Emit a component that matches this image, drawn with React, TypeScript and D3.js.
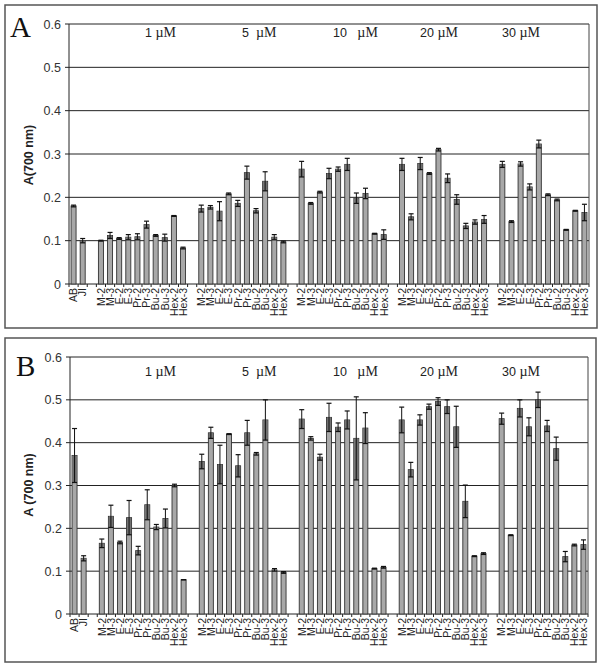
import React from 'react';
import * as d3 from 'd3';

const controls = ['AB', 'JI'];
const compounds = ['M-2', 'M-3', 'E-2', 'E-3', 'Pr-2', 'Pr-3', 'Bu-2', 'Bu-3', 'Hex-2', 'Hex-3'];
const concentrations = ['1', '5', '10', '20', '30'];
const concSpaces = [' ', '  ', '   ', ' ', ' '];
const yTicks = [0, 0.1, 0.2, 0.3, 0.4, 0.5, 0.6];

// Panel A
const aControlMean = [0.18, 0.10];
const aControlErr = [0.002, 0.005];
const aMean1 = [0.100, 0.112, 0.105, 0.108, 0.109, 0.137, 0.112, 0.107, 0.157, 0.083];
const aErr1 = [0.001, 0.007, 0.002, 0.006, 0.007, 0.008, 0.002, 0.008, 0.001, 0.002];
const aMean5 = [0.174, 0.177, 0.168, 0.208, 0.186, 0.257, 0.169, 0.237, 0.108, 0.097];
const aErr5 = [0.008, 0.004, 0.022, 0.002, 0.007, 0.015, 0.005, 0.022, 0.006, 0.002];
const aMean10 = [0.265, 0.186, 0.212, 0.255, 0.265, 0.276, 0.198, 0.209, 0.116, 0.114];
const aErr10 = [0.018, 0.002, 0.002, 0.012, 0.005, 0.014, 0.012, 0.012, 0.001, 0.011];
const aMean20 = [0.276, 0.155, 0.278, 0.255, 0.310, 0.244, 0.195, 0.134, 0.143, 0.149];
const aErr20 = [0.014, 0.007, 0.014, 0.002, 0.003, 0.010, 0.011, 0.006, 0.005, 0.009];
const aMean30 = [0.276, 0.144, 0.277, 0.224, 0.323, 0.206, 0.194, 0.125, 0.169, 0.165];
const aErr30 = [0.007, 0.002, 0.005, 0.007, 0.009, 0.002, 0.002, 0.001, 0.001, 0.019];

// Panel B
const bControlMean = [0.37, 0.13];
const bControlErr = [0.063, 0.006];
const bMean1 = [0.165, 0.228, 0.167, 0.225, 0.148, 0.255, 0.203, 0.223, 0.300, 0.080];
const bErr1 = [0.010, 0.026, 0.003, 0.040, 0.010, 0.035, 0.006, 0.022, 0.003, 0.000];
const bMean5 = [0.356, 0.423, 0.349, 0.420, 0.346, 0.423, 0.374, 0.453, 0.103, 0.097];
const bErr5 = [0.017, 0.013, 0.045, 0.001, 0.026, 0.029, 0.003, 0.047, 0.003, 0.002];
const bMean10 = [0.455, 0.410, 0.366, 0.459, 0.436, 0.453, 0.410, 0.434, 0.106, 0.109];
const bErr10 = [0.022, 0.004, 0.007, 0.033, 0.010, 0.021, 0.097, 0.036, 0.001, 0.002];
const bMean20 = [0.453, 0.337, 0.453, 0.484, 0.496, 0.484, 0.437, 0.263, 0.135, 0.141];
const bErr20 = [0.030, 0.017, 0.012, 0.006, 0.009, 0.016, 0.048, 0.038, 0.001, 0.002];
const bMean30 = [0.456, 0.184, 0.480, 0.437, 0.500, 0.439, 0.386, 0.134, 0.161, 0.162];
const bErr30 = [0.013, 0.001, 0.020, 0.021, 0.018, 0.013, 0.027, 0.012, 0.002, 0.011];

type Slot = { label: string; v: number | null; e: number };

function buildSlots(cm: number[], ce: number[], means: number[][], errs: number[][]): Slot[] {
  const s: Slot[] = controls.map((c, i) => ({ label: c, v: cm[i], e: ce[i] }));
  means.forEach((m, g) => {
    s.push({ label: '', v: null, e: 0 });
    compounds.forEach((c, i) => s.push({ label: c, v: m[i], e: errs[g][i] }));
  });
  return s;
}

const slotsA = buildSlots(aControlMean, aControlErr, [aMean1, aMean5, aMean10, aMean20, aMean30], [aErr1, aErr5, aErr10, aErr20, aErr30]);
const slotsB = buildSlots(bControlMean, bControlErr, [bMean1, bMean5, bMean10, bMean20, bMean30], [bErr1, bErr5, bErr10, bErr20, bErr30]);

const labelX = [145, 242, 333, 420, 502];

type PanelProps = {
  slots: Slot[];
  frame: [number, number, number, number];
  x0: number; x1: number; yTop: number; yBot: number;
  letter: string; letterX: number; letterY: number;
  title: string; titleY: number; concY: number;
};

function Panel(p: PanelProps) {
  const x = d3.scaleBand<string>()
    .domain(p.slots.map((_, i) => String(i)))
    .range([p.x0, p.x1])
    .paddingInner(0.45)
    .paddingOuter(0.225);
  const y = d3.scaleLinear().domain([0, 0.6]).range([p.yBot, p.yTop]);
  const step = x.step();
  const bw = x.bandwidth();
  const [fx, fy, fw, fh] = p.frame;
  return (
    <g>
      <rect x={fx} y={fy} width={fw} height={fh} fill="#fff" stroke="#555" strokeWidth={1.5} />
      {yTicks.map(t => (
        <g key={t}>
          {t > 0 && <line x1={p.x0} x2={p.x1} y1={y(t)} y2={y(t)} stroke="#222" strokeWidth={1} />}
          <line x1={p.x0 - 4} x2={p.x0} y1={y(t)} y2={y(t)} stroke="#222" strokeWidth={1} />
          <text x={p.x0 - 8} y={y(t) + 4.5} textAnchor="end" fontFamily="Liberation Sans, Arial, sans-serif" fontSize={12.5} fill="#333">{String(t)}</text>
        </g>
      ))}
      <line x1={p.x1} x2={p.x1} y1={p.yTop} y2={p.yBot} stroke="#444" strokeWidth={1} />
      <line x1={p.x0} x2={p.x0} y1={p.yTop} y2={p.yBot} stroke="#222" strokeWidth={1} />
      <line x1={p.x0} x2={p.x1} y1={p.yBot} y2={p.yBot} stroke="#222" strokeWidth={1} />
      {p.slots.map((_, i) => (
        <line key={'t' + i} x1={p.x0 + i * step} x2={p.x0 + i * step} y1={p.yBot} y2={p.yBot + 3} stroke="#222" strokeWidth={1} />
      ))}
      <line x1={p.x1} x2={p.x1} y1={p.yBot} y2={p.yBot + 3} stroke="#222" strokeWidth={1} />
      {p.slots.map((s, i) => {
        if (s.v === null) return null;
        const bx = x(String(i))!;
        const cx = bx + bw / 2;
        const top = y(s.v);
        const lo = y(Math.max(0, s.v - s.e));
        const hi = y(s.v + s.e);
        return (
          <g key={'b' + i}>
            <rect x={bx} y={top} width={bw} height={p.yBot - top} fill="#a8a8a8" stroke="#333" strokeWidth={0.9} />
            {s.e > 0.004 && <rect x={bx + 0.5} y={top} width={bw - 1} height={lo - top} fill="#707070" />}
            <line x1={cx} x2={cx} y1={hi} y2={lo} stroke="#111" strokeWidth={1} />
            <line x1={cx - 2.5} x2={cx + 2.5} y1={hi} y2={hi} stroke="#111" strokeWidth={1.2} />
            <line x1={cx - 2.5} x2={cx + 2.5} y1={lo} y2={lo} stroke="#111" strokeWidth={1.2} />
          </g>
        );
      })}
      {p.slots.map((s, i) => s.label ? (
        <text key={'l' + i}
          transform={`translate(${x(String(i))! + bw / 2 + 3.8},${p.yBot + 4}) rotate(-90)`}
          textAnchor="end" fontFamily="Liberation Sans, Arial, sans-serif" fontSize={10.5} fill="#222">{s.label}</text>
      ) : null)}
      {concentrations.map((c, i) => (
        <text key={'c' + i} x={labelX[i]} y={p.concY} fontSize={12.5} fill="#222" style={{ whiteSpace: 'pre' }}>
          <tspan fontFamily="Liberation Sans, Arial, sans-serif">{c + concSpaces[i]}</tspan>
          <tspan fontFamily="Liberation Serif, Times New Roman, serif" fontSize={14}>µM</tspan>
        </text>
      ))}
      <text transform={`translate(33,${p.titleY}) rotate(-90)`} textAnchor="middle" fontFamily="Liberation Sans, Arial, sans-serif" fontWeight="bold" fontSize={12.5} fill="#222" style={{ whiteSpace: 'pre' }}>{p.title}</text>
      <text x={p.letterX} y={p.letterY} fontFamily="Liberation Serif, Times New Roman, serif" fontSize={29} fill="#111">{p.letter}</text>
    </g>
  );
}

export default function App() {
  return (
    <svg width={603} height={666} style={{ position: 'absolute', left: 0, top: 0, background: '#fff' }}>
      <rect x={0} y={0} width={603} height={666} fill="#fff" />
      <Panel slots={slotsA} frame={[5, 5, 592, 323]} x0={69} x1={589} yTop={24} yBot={284}
        letter="A" letterX={10} letterY={37} title="A(700 nm)" titleY={155} concY={37} />
      <Panel slots={slotsB} frame={[5, 338, 591, 324]} x0={70} x1={588} yTop={357} yBot={614}
        letter="B" letterX={16} letterY={376} title="A (700 nm)" titleY={485} concY={376} />
    </svg>
  );
}
